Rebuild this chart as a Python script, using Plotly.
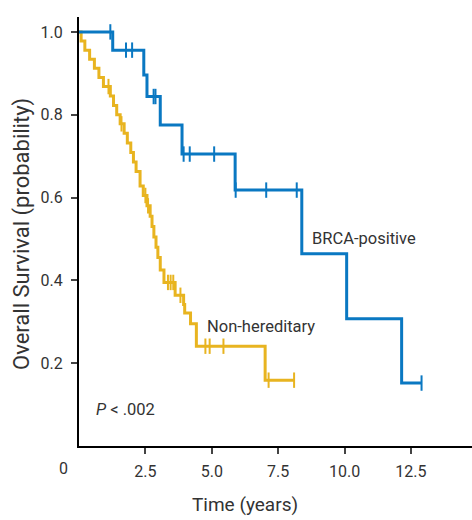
import plotly.graph_objects as go

# Kaplan-Meier step data: time (years) of each drop and survival after it
brca_time = [0.0, 1.27, 2.44, 2.56, 3.06, 3.88, 5.88, 8.39, 10.08, 12.15]
brca_surv = [1.0, 0.956, 0.896, 0.844, 0.775, 0.705, 0.618, 0.464, 0.307, 0.152]
brca_end = 12.9
brca_censor = [1.18, 1.77, 2.0, 2.81, 2.88, 3.94, 4.17, 5.09, 5.9, 7.05, 8.2, 12.9]

nonh_time = [0.0, 0.08, 0.22, 0.40, 0.58, 0.75, 0.92, 1.18, 1.30, 1.42, 1.55,
             1.70, 1.82, 1.95, 2.05, 2.15, 2.30, 2.42, 2.56, 2.68, 2.75, 2.82,
             2.90, 2.97, 3.06, 3.20, 3.62, 3.94, 3.98, 4.20, 4.42, 7.01]
nonh_surv = [1.0, 0.978, 0.956, 0.934, 0.912, 0.890, 0.868, 0.845, 0.822, 0.800,
             0.778, 0.755, 0.732, 0.709, 0.686, 0.663, 0.628, 0.605, 0.580, 0.555,
             0.530, 0.505, 0.480, 0.455, 0.425, 0.395, 0.364, 0.342, 0.321, 0.295,
             0.241, 0.159]
nonh_end = 8.1
nonh_censor = [1.11, 1.60, 2.50, 2.60, 3.35, 3.45, 3.55, 3.82, 4.76, 4.92, 5.44, 7.14, 8.1]

x_ticks = [2.5, 5.0, 7.5, 10.0, 12.5]
x_ticklabels = ["2.5", "5.0", "7.5", "10.0", "12.5"]
y_ticks = [0.2, 0.4, 0.6, 0.8, 1.0]
y_ticklabels = ["0.2", "0.4", "0.6", "0.8", "1.0"]

BLUE = "#0a78c2"
GOLD = "#e8b420"
TEXT = "#333333"
FONT = "Roboto, Arial, sans-serif"
TICK_SIZE = 16


def surv_at(times, survs, t):
    s = survs[0]
    for ti, si in zip(times, survs):
        if ti <= t:
            s = si
    return s


fig = go.Figure()

for times, survs, end, cens, color in [
    (nonh_time, nonh_surv, nonh_end, nonh_censor, GOLD),
    (brca_time, brca_surv, brca_end, brca_censor, BLUE),
]:
    fig.add_trace(go.Scatter(
        x=times + [end], y=survs + [survs[-1]],
        mode="lines", line=dict(color=color, width=3, shape="hv"),
        hoverinfo="skip", showlegend=False,
    ))
    fig.add_trace(go.Scatter(
        x=cens, y=[surv_at(times, survs, c) for c in cens],
        mode="markers",
        marker=dict(symbol="line-ns", size=11, line=dict(color=color, width=2)),
        hoverinfo="skip", showlegend=False,
    ))

axis_common = dict(
    showgrid=False, zeroline=False,
    showline=True, linecolor="black", linewidth=2,
    ticks="outside", ticklen=6, tickwidth=1.5, tickcolor="#444",
    tickfont=dict(size=TICK_SIZE, color=TEXT, family=FONT),
)

fig.update_layout(
    width=472, height=520,
    margin=dict(l=79, r=0, t=17, b=74),
    paper_bgcolor="white", plot_bgcolor="white",
    font=dict(family=FONT, color=TEXT, size=TICK_SIZE),
    xaxis=dict(range=[0, 14.8], tickvals=x_ticks, ticktext=x_ticklabels,
               ticklabelstandoff=4, **axis_common),
    yaxis=dict(range=[0, 1.036], tickvals=y_ticks, ticktext=y_ticklabels,
               ticklabelstandoff=5, **axis_common),
    annotations=[
        dict(text="0", xref="paper", yref="paper", x=0, y=0, xshift=-16, yshift=-22,
             xanchor="center", yanchor="middle", showarrow=False,
             font=dict(size=TICK_SIZE, color=TEXT, family=FONT)),
        dict(text="Time (years)", xref="paper", yref="paper", x=0, y=0,
             xshift=166, yshift=-58, xanchor="center", yanchor="middle",
             showarrow=False, font=dict(size=19, color=TEXT, family=FONT)),
        dict(text="Overall Survival (probability)", xref="paper", yref="paper",
             x=0, y=0, xshift=-57, yshift=212, textangle=-90,
             xanchor="center", yanchor="middle", showarrow=False,
             font=dict(size=22, color=TEXT, family=FONT)),
        dict(text="BRCA-positive", x=8.7, y=0.50, xanchor="left", yanchor="middle",
             showarrow=False, font=dict(size=16.5, color=TEXT, family=FONT)),
        dict(text="Non-hereditary", x=4.75, y=0.288, xanchor="left", yanchor="middle",
             showarrow=False, font=dict(size=16.5, color=TEXT, family=FONT)),
        dict(text="<i>P</i> < .002", x=0.55, y=0.087, xanchor="left", yanchor="middle",
             showarrow=False, font=dict(size=16.5, color=TEXT, family=FONT)),
    ],
)

fig.write_html("out.html")
